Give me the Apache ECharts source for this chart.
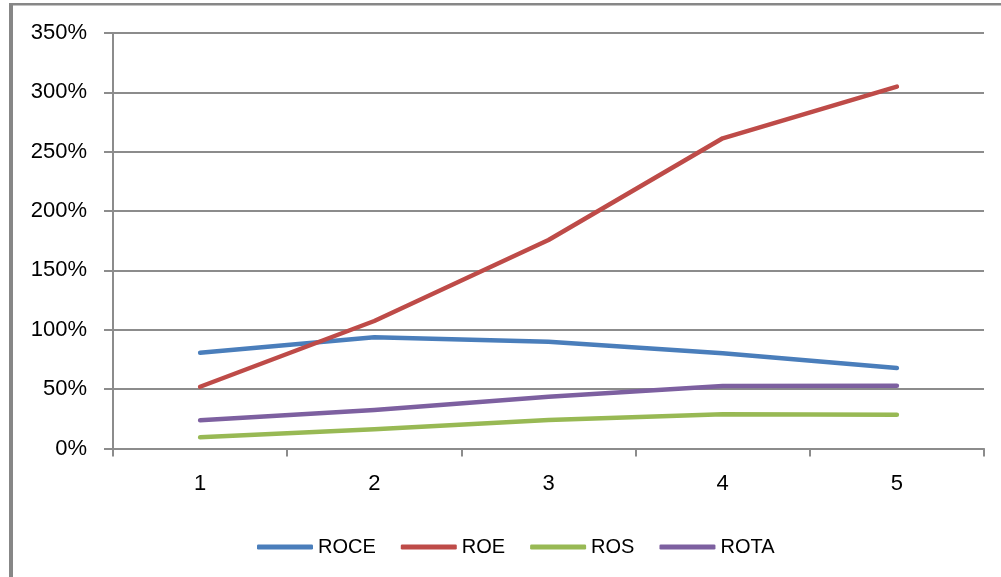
<!DOCTYPE html>
<html>
<head>
<meta charset="utf-8">
<script src="https://cdn.jsdelivr.net/npm/echarts@6/dist/echarts.min.js"></script>
<style>
  html, body { margin: 0; padding: 0; background: #fff; }
  #chart { width: 1001px; height: 577px; }
</style>
</head>
<body>
<div id="chart"></div>
<script>
// Periods on the x axis
const categories = ['1', '2', '3', '4', '5'];

// Return ratios, in percent
const roce = [80.7, 93.7, 90.0, 80.2, 67.8];
const roe  = [52.0, 107.4, 175.6, 261.3, 304.8];
const ros  = [9.4, 16.2, 24.0, 28.8, 28.5];
const rota = [23.8, 32.4, 43.6, 52.7, 52.9];

const seriesNames = ['ROCE', 'ROE', 'ROS', 'ROTA'];
const seriesData = [roce, roe, ros, rota];
const seriesColors = ['#4A7EBB', '#BE4B48', '#98B954', '#7D60A0'];

// Value axis range and step (percent)
const yMin = 0;
const yMax = 350;
const yStep = 50;

const FONT = '"Liberation Sans", Arial, sans-serif';
const GRID_COLOR = '#8C8C8C';

const chart = echarts.init(document.getElementById('chart'), null, { renderer: 'canvas' });

chart.setOption({
  animation: false,
  backgroundColor: '#ffffff',
  grid: { left: 113, right: 17, top: 33, bottom: 128.5, containLabel: false },
  graphic: [
    // outer frame: left and top edges
    { type: 'rect', shape: { x: 9, y: 3, width: 4, height: 577 }, style: { fill: '#878787' }, silent: true },
    { type: 'rect', shape: { x: 9, y: 3, width: 992, height: 2.5 }, style: { fill: '#878787' }, silent: true }
  ],
  xAxis: {
    type: 'category',
    data: categories,
    boundaryGap: true,
    axisLine: { show: true, lineStyle: { color: GRID_COLOR, width: 2 } },
    axisTick: { show: true, length: 8, alignWithLabel: false, lineStyle: { color: GRID_COLOR, width: 2 } },
    axisLabel: { color: '#000', fontFamily: FONT, fontSize: 22, margin: 24 },
    splitLine: { show: false }
  },
  yAxis: {
    type: 'value',
    min: yMin,
    max: yMax,
    interval: yStep,
    axisLine: { show: true, lineStyle: { color: GRID_COLOR, width: 2 } },
    axisTick: { show: true, length: 9, lineStyle: { color: GRID_COLOR, width: 2 } },
    axisLabel: { color: '#000', fontFamily: FONT, fontSize: 22, margin: 26, formatter: '{value}%' },
    splitLine: { show: true, lineStyle: { color: GRID_COLOR, width: 2 } }
  },
  legend: {
    data: seriesNames,
    left: 252,
    top: 532,
    orient: 'horizontal',
    icon: 'roundRect',
    itemWidth: 56,
    itemHeight: 5,
    itemGap: 25,
    textStyle: { color: '#000', fontFamily: FONT, fontSize: 20, padding: [0, 0, 0, 0] }
  },
  series: seriesNames.map((name, i) => ({
    name: name,
    type: 'line',
    data: seriesData[i],
    showSymbol: false,
    symbol: 'none',
    color: seriesColors[i],
    lineStyle: { color: seriesColors[i], width: 4.5, cap: 'round', join: 'round' },
    itemStyle: { color: seriesColors[i] },
    z: 3
  }))
});
</script>
</body>
</html>
